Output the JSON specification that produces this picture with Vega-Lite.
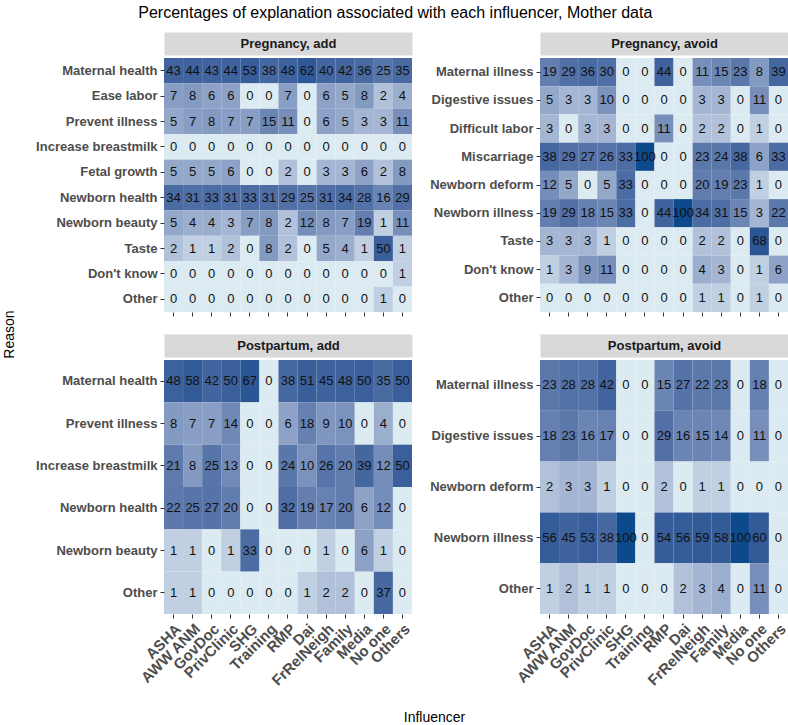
{
  "$schema": "https://vega.github.io/schema/vega-lite/v6.json",
  "padding": {"left": 2, "top": 4, "right": 0, "bottom": 0},
  "background": "white",
  "title": {"text": "Percentages of explanation associated with each influencer, Mother data", "fontSize": 16, "fontWeight": "normal", "color": "#000000", "font": "Liberation Sans", "anchor": "middle", "offset": 17},
  "config": {
    "view": {"stroke": null},
    "font": "Liberation Sans",
    "axis": {"labelFont": "Liberation Sans", "labelFontWeight": "bold", "labelFontSize": 13, "labelColor": "#4d4d4d", "tickColor": "#333333", "tickSize": 4, "domain": false, "labelPadding": 3, "grid": false, "titleFont": "Liberation Sans"}
  },
  "datasets": {
    "PA": [
      {"r":"Maternal health","i":"ASHA","v":43},{"r":"Maternal health","i":"AWW ANM","v":44},{"r":"Maternal health","i":"GovDoc","v":43},{"r":"Maternal health","i":"PrivClinic","v":44},{"r":"Maternal health","i":"SHG","v":53},{"r":"Maternal health","i":"Training","v":38},{"r":"Maternal health","i":"RMP","v":48},{"r":"Maternal health","i":"Dai","v":62},{"r":"Maternal health","i":"FrRelNeigh","v":40},{"r":"Maternal health","i":"Family","v":42},{"r":"Maternal health","i":"Media","v":36},{"r":"Maternal health","i":"No one","v":25},{"r":"Maternal health","i":"Others","v":35},
      {"r":"Ease labor","i":"ASHA","v":7},{"r":"Ease labor","i":"AWW ANM","v":8},{"r":"Ease labor","i":"GovDoc","v":6},{"r":"Ease labor","i":"PrivClinic","v":6},{"r":"Ease labor","i":"SHG","v":0},{"r":"Ease labor","i":"Training","v":0},{"r":"Ease labor","i":"RMP","v":7},{"r":"Ease labor","i":"Dai","v":0},{"r":"Ease labor","i":"FrRelNeigh","v":6},{"r":"Ease labor","i":"Family","v":5},{"r":"Ease labor","i":"Media","v":8},{"r":"Ease labor","i":"No one","v":2},{"r":"Ease labor","i":"Others","v":4},
      {"r":"Prevent illness","i":"ASHA","v":5},{"r":"Prevent illness","i":"AWW ANM","v":7},{"r":"Prevent illness","i":"GovDoc","v":8},{"r":"Prevent illness","i":"PrivClinic","v":7},{"r":"Prevent illness","i":"SHG","v":7},{"r":"Prevent illness","i":"Training","v":15},{"r":"Prevent illness","i":"RMP","v":11},{"r":"Prevent illness","i":"Dai","v":0},{"r":"Prevent illness","i":"FrRelNeigh","v":6},{"r":"Prevent illness","i":"Family","v":5},{"r":"Prevent illness","i":"Media","v":3},{"r":"Prevent illness","i":"No one","v":3},{"r":"Prevent illness","i":"Others","v":11},
      {"r":"Increase breastmilk","i":"ASHA","v":0},{"r":"Increase breastmilk","i":"AWW ANM","v":0},{"r":"Increase breastmilk","i":"GovDoc","v":0},{"r":"Increase breastmilk","i":"PrivClinic","v":0},{"r":"Increase breastmilk","i":"SHG","v":0},{"r":"Increase breastmilk","i":"Training","v":0},{"r":"Increase breastmilk","i":"RMP","v":0},{"r":"Increase breastmilk","i":"Dai","v":0},{"r":"Increase breastmilk","i":"FrRelNeigh","v":0},{"r":"Increase breastmilk","i":"Family","v":0},{"r":"Increase breastmilk","i":"Media","v":0},{"r":"Increase breastmilk","i":"No one","v":0},{"r":"Increase breastmilk","i":"Others","v":0},
      {"r":"Fetal growth","i":"ASHA","v":5},{"r":"Fetal growth","i":"AWW ANM","v":5},{"r":"Fetal growth","i":"GovDoc","v":5},{"r":"Fetal growth","i":"PrivClinic","v":6},{"r":"Fetal growth","i":"SHG","v":0},{"r":"Fetal growth","i":"Training","v":0},{"r":"Fetal growth","i":"RMP","v":2},{"r":"Fetal growth","i":"Dai","v":0},{"r":"Fetal growth","i":"FrRelNeigh","v":3},{"r":"Fetal growth","i":"Family","v":3},{"r":"Fetal growth","i":"Media","v":6},{"r":"Fetal growth","i":"No one","v":2},{"r":"Fetal growth","i":"Others","v":8},
      {"r":"Newborn health","i":"ASHA","v":34},{"r":"Newborn health","i":"AWW ANM","v":31},{"r":"Newborn health","i":"GovDoc","v":33},{"r":"Newborn health","i":"PrivClinic","v":31},{"r":"Newborn health","i":"SHG","v":33},{"r":"Newborn health","i":"Training","v":31},{"r":"Newborn health","i":"RMP","v":29},{"r":"Newborn health","i":"Dai","v":25},{"r":"Newborn health","i":"FrRelNeigh","v":31},{"r":"Newborn health","i":"Family","v":34},{"r":"Newborn health","i":"Media","v":28},{"r":"Newborn health","i":"No one","v":16},{"r":"Newborn health","i":"Others","v":29},
      {"r":"Newborn beauty","i":"ASHA","v":5},{"r":"Newborn beauty","i":"AWW ANM","v":4},{"r":"Newborn beauty","i":"GovDoc","v":4},{"r":"Newborn beauty","i":"PrivClinic","v":3},{"r":"Newborn beauty","i":"SHG","v":7},{"r":"Newborn beauty","i":"Training","v":8},{"r":"Newborn beauty","i":"RMP","v":2},{"r":"Newborn beauty","i":"Dai","v":12},{"r":"Newborn beauty","i":"FrRelNeigh","v":8},{"r":"Newborn beauty","i":"Family","v":7},{"r":"Newborn beauty","i":"Media","v":19},{"r":"Newborn beauty","i":"No one","v":1},{"r":"Newborn beauty","i":"Others","v":11},
      {"r":"Taste","i":"ASHA","v":2},{"r":"Taste","i":"AWW ANM","v":1},{"r":"Taste","i":"GovDoc","v":1},{"r":"Taste","i":"PrivClinic","v":2},{"r":"Taste","i":"SHG","v":0},{"r":"Taste","i":"Training","v":8},{"r":"Taste","i":"RMP","v":2},{"r":"Taste","i":"Dai","v":0},{"r":"Taste","i":"FrRelNeigh","v":5},{"r":"Taste","i":"Family","v":4},{"r":"Taste","i":"Media","v":1},{"r":"Taste","i":"No one","v":50},{"r":"Taste","i":"Others","v":1},
      {"r":"Don't know","i":"ASHA","v":0},{"r":"Don't know","i":"AWW ANM","v":0},{"r":"Don't know","i":"GovDoc","v":0},{"r":"Don't know","i":"PrivClinic","v":0},{"r":"Don't know","i":"SHG","v":0},{"r":"Don't know","i":"Training","v":0},{"r":"Don't know","i":"RMP","v":0},{"r":"Don't know","i":"Dai","v":0},{"r":"Don't know","i":"FrRelNeigh","v":0},{"r":"Don't know","i":"Family","v":0},{"r":"Don't know","i":"Media","v":0},{"r":"Don't know","i":"No one","v":0},{"r":"Don't know","i":"Others","v":1},
      {"r":"Other","i":"ASHA","v":0},{"r":"Other","i":"AWW ANM","v":0},{"r":"Other","i":"GovDoc","v":0},{"r":"Other","i":"PrivClinic","v":0},{"r":"Other","i":"SHG","v":0},{"r":"Other","i":"Training","v":0},{"r":"Other","i":"RMP","v":0},{"r":"Other","i":"Dai","v":0},{"r":"Other","i":"FrRelNeigh","v":0},{"r":"Other","i":"Family","v":0},{"r":"Other","i":"Media","v":0},{"r":"Other","i":"No one","v":1},{"r":"Other","i":"Others","v":0}
    ],
    "PV": [
      {"r":"Maternal illness","i":"ASHA","v":19},{"r":"Maternal illness","i":"AWW ANM","v":29},{"r":"Maternal illness","i":"GovDoc","v":36},{"r":"Maternal illness","i":"PrivClinic","v":30},{"r":"Maternal illness","i":"SHG","v":0},{"r":"Maternal illness","i":"Training","v":0},{"r":"Maternal illness","i":"RMP","v":44},{"r":"Maternal illness","i":"Dai","v":0},{"r":"Maternal illness","i":"FrRelNeigh","v":11},{"r":"Maternal illness","i":"Family","v":15},{"r":"Maternal illness","i":"Media","v":23},{"r":"Maternal illness","i":"No one","v":8},{"r":"Maternal illness","i":"Others","v":39},
      {"r":"Digestive issues","i":"ASHA","v":5},{"r":"Digestive issues","i":"AWW ANM","v":3},{"r":"Digestive issues","i":"GovDoc","v":3},{"r":"Digestive issues","i":"PrivClinic","v":10},{"r":"Digestive issues","i":"SHG","v":0},{"r":"Digestive issues","i":"Training","v":0},{"r":"Digestive issues","i":"RMP","v":0},{"r":"Digestive issues","i":"Dai","v":0},{"r":"Digestive issues","i":"FrRelNeigh","v":3},{"r":"Digestive issues","i":"Family","v":3},{"r":"Digestive issues","i":"Media","v":0},{"r":"Digestive issues","i":"No one","v":11},{"r":"Digestive issues","i":"Others","v":0},
      {"r":"Difficult labor","i":"ASHA","v":3},{"r":"Difficult labor","i":"AWW ANM","v":0},{"r":"Difficult labor","i":"GovDoc","v":3},{"r":"Difficult labor","i":"PrivClinic","v":3},{"r":"Difficult labor","i":"SHG","v":0},{"r":"Difficult labor","i":"Training","v":0},{"r":"Difficult labor","i":"RMP","v":11},{"r":"Difficult labor","i":"Dai","v":0},{"r":"Difficult labor","i":"FrRelNeigh","v":2},{"r":"Difficult labor","i":"Family","v":2},{"r":"Difficult labor","i":"Media","v":0},{"r":"Difficult labor","i":"No one","v":1},{"r":"Difficult labor","i":"Others","v":0},
      {"r":"Miscarriage","i":"ASHA","v":38},{"r":"Miscarriage","i":"AWW ANM","v":29},{"r":"Miscarriage","i":"GovDoc","v":27},{"r":"Miscarriage","i":"PrivClinic","v":26},{"r":"Miscarriage","i":"SHG","v":33},{"r":"Miscarriage","i":"Training","v":100},{"r":"Miscarriage","i":"RMP","v":0},{"r":"Miscarriage","i":"Dai","v":0},{"r":"Miscarriage","i":"FrRelNeigh","v":23},{"r":"Miscarriage","i":"Family","v":24},{"r":"Miscarriage","i":"Media","v":38},{"r":"Miscarriage","i":"No one","v":6},{"r":"Miscarriage","i":"Others","v":33},
      {"r":"Newborn deform","i":"ASHA","v":12},{"r":"Newborn deform","i":"AWW ANM","v":5},{"r":"Newborn deform","i":"GovDoc","v":0},{"r":"Newborn deform","i":"PrivClinic","v":5},{"r":"Newborn deform","i":"SHG","v":33},{"r":"Newborn deform","i":"Training","v":0},{"r":"Newborn deform","i":"RMP","v":0},{"r":"Newborn deform","i":"Dai","v":0},{"r":"Newborn deform","i":"FrRelNeigh","v":20},{"r":"Newborn deform","i":"Family","v":19},{"r":"Newborn deform","i":"Media","v":23},{"r":"Newborn deform","i":"No one","v":1},{"r":"Newborn deform","i":"Others","v":0},
      {"r":"Newborn illness","i":"ASHA","v":19},{"r":"Newborn illness","i":"AWW ANM","v":29},{"r":"Newborn illness","i":"GovDoc","v":18},{"r":"Newborn illness","i":"PrivClinic","v":15},{"r":"Newborn illness","i":"SHG","v":33},{"r":"Newborn illness","i":"Training","v":0},{"r":"Newborn illness","i":"RMP","v":44},{"r":"Newborn illness","i":"Dai","v":100},{"r":"Newborn illness","i":"FrRelNeigh","v":34},{"r":"Newborn illness","i":"Family","v":31},{"r":"Newborn illness","i":"Media","v":15},{"r":"Newborn illness","i":"No one","v":3},{"r":"Newborn illness","i":"Others","v":22},
      {"r":"Taste","i":"ASHA","v":3},{"r":"Taste","i":"AWW ANM","v":3},{"r":"Taste","i":"GovDoc","v":3},{"r":"Taste","i":"PrivClinic","v":1},{"r":"Taste","i":"SHG","v":0},{"r":"Taste","i":"Training","v":0},{"r":"Taste","i":"RMP","v":0},{"r":"Taste","i":"Dai","v":0},{"r":"Taste","i":"FrRelNeigh","v":2},{"r":"Taste","i":"Family","v":2},{"r":"Taste","i":"Media","v":0},{"r":"Taste","i":"No one","v":68},{"r":"Taste","i":"Others","v":0},
      {"r":"Don't know","i":"ASHA","v":1},{"r":"Don't know","i":"AWW ANM","v":3},{"r":"Don't know","i":"GovDoc","v":9},{"r":"Don't know","i":"PrivClinic","v":11},{"r":"Don't know","i":"SHG","v":0},{"r":"Don't know","i":"Training","v":0},{"r":"Don't know","i":"RMP","v":0},{"r":"Don't know","i":"Dai","v":0},{"r":"Don't know","i":"FrRelNeigh","v":4},{"r":"Don't know","i":"Family","v":3},{"r":"Don't know","i":"Media","v":0},{"r":"Don't know","i":"No one","v":1},{"r":"Don't know","i":"Others","v":6},
      {"r":"Other","i":"ASHA","v":0},{"r":"Other","i":"AWW ANM","v":0},{"r":"Other","i":"GovDoc","v":0},{"r":"Other","i":"PrivClinic","v":0},{"r":"Other","i":"SHG","v":0},{"r":"Other","i":"Training","v":0},{"r":"Other","i":"RMP","v":0},{"r":"Other","i":"Dai","v":0},{"r":"Other","i":"FrRelNeigh","v":1},{"r":"Other","i":"Family","v":1},{"r":"Other","i":"Media","v":0},{"r":"Other","i":"No one","v":1},{"r":"Other","i":"Others","v":0}
    ],
    "QA": [
      {"r":"Maternal health","i":"ASHA","v":48},{"r":"Maternal health","i":"AWW ANM","v":58},{"r":"Maternal health","i":"GovDoc","v":42},{"r":"Maternal health","i":"PrivClinic","v":50},{"r":"Maternal health","i":"SHG","v":67},{"r":"Maternal health","i":"Training","v":0},{"r":"Maternal health","i":"RMP","v":38},{"r":"Maternal health","i":"Dai","v":51},{"r":"Maternal health","i":"FrRelNeigh","v":45},{"r":"Maternal health","i":"Family","v":48},{"r":"Maternal health","i":"Media","v":50},{"r":"Maternal health","i":"No one","v":35},{"r":"Maternal health","i":"Others","v":50},
      {"r":"Prevent illness","i":"ASHA","v":8},{"r":"Prevent illness","i":"AWW ANM","v":7},{"r":"Prevent illness","i":"GovDoc","v":7},{"r":"Prevent illness","i":"PrivClinic","v":14},{"r":"Prevent illness","i":"SHG","v":0},{"r":"Prevent illness","i":"Training","v":0},{"r":"Prevent illness","i":"RMP","v":6},{"r":"Prevent illness","i":"Dai","v":18},{"r":"Prevent illness","i":"FrRelNeigh","v":9},{"r":"Prevent illness","i":"Family","v":10},{"r":"Prevent illness","i":"Media","v":0},{"r":"Prevent illness","i":"No one","v":4},{"r":"Prevent illness","i":"Others","v":0},
      {"r":"Increase breastmilk","i":"ASHA","v":21},{"r":"Increase breastmilk","i":"AWW ANM","v":8},{"r":"Increase breastmilk","i":"GovDoc","v":25},{"r":"Increase breastmilk","i":"PrivClinic","v":13},{"r":"Increase breastmilk","i":"SHG","v":0},{"r":"Increase breastmilk","i":"Training","v":0},{"r":"Increase breastmilk","i":"RMP","v":24},{"r":"Increase breastmilk","i":"Dai","v":10},{"r":"Increase breastmilk","i":"FrRelNeigh","v":26},{"r":"Increase breastmilk","i":"Family","v":20},{"r":"Increase breastmilk","i":"Media","v":39},{"r":"Increase breastmilk","i":"No one","v":12},{"r":"Increase breastmilk","i":"Others","v":50},
      {"r":"Newborn health","i":"ASHA","v":22},{"r":"Newborn health","i":"AWW ANM","v":25},{"r":"Newborn health","i":"GovDoc","v":27},{"r":"Newborn health","i":"PrivClinic","v":20},{"r":"Newborn health","i":"SHG","v":0},{"r":"Newborn health","i":"Training","v":0},{"r":"Newborn health","i":"RMP","v":32},{"r":"Newborn health","i":"Dai","v":19},{"r":"Newborn health","i":"FrRelNeigh","v":17},{"r":"Newborn health","i":"Family","v":20},{"r":"Newborn health","i":"Media","v":6},{"r":"Newborn health","i":"No one","v":12},{"r":"Newborn health","i":"Others","v":0},
      {"r":"Newborn beauty","i":"ASHA","v":1},{"r":"Newborn beauty","i":"AWW ANM","v":1},{"r":"Newborn beauty","i":"GovDoc","v":0},{"r":"Newborn beauty","i":"PrivClinic","v":1},{"r":"Newborn beauty","i":"SHG","v":33},{"r":"Newborn beauty","i":"Training","v":0},{"r":"Newborn beauty","i":"RMP","v":0},{"r":"Newborn beauty","i":"Dai","v":0},{"r":"Newborn beauty","i":"FrRelNeigh","v":1},{"r":"Newborn beauty","i":"Family","v":0},{"r":"Newborn beauty","i":"Media","v":6},{"r":"Newborn beauty","i":"No one","v":1},{"r":"Newborn beauty","i":"Others","v":0},
      {"r":"Other","i":"ASHA","v":1},{"r":"Other","i":"AWW ANM","v":1},{"r":"Other","i":"GovDoc","v":0},{"r":"Other","i":"PrivClinic","v":0},{"r":"Other","i":"SHG","v":0},{"r":"Other","i":"Training","v":0},{"r":"Other","i":"RMP","v":0},{"r":"Other","i":"Dai","v":1},{"r":"Other","i":"FrRelNeigh","v":2},{"r":"Other","i":"Family","v":2},{"r":"Other","i":"Media","v":0},{"r":"Other","i":"No one","v":37},{"r":"Other","i":"Others","v":0}
    ],
    "QV": [
      {"r":"Maternal illness","i":"ASHA","v":23},{"r":"Maternal illness","i":"AWW ANM","v":28},{"r":"Maternal illness","i":"GovDoc","v":28},{"r":"Maternal illness","i":"PrivClinic","v":42},{"r":"Maternal illness","i":"SHG","v":0},{"r":"Maternal illness","i":"Training","v":0},{"r":"Maternal illness","i":"RMP","v":15},{"r":"Maternal illness","i":"Dai","v":27},{"r":"Maternal illness","i":"FrRelNeigh","v":22},{"r":"Maternal illness","i":"Family","v":23},{"r":"Maternal illness","i":"Media","v":0},{"r":"Maternal illness","i":"No one","v":18},{"r":"Maternal illness","i":"Others","v":0},
      {"r":"Digestive issues","i":"ASHA","v":18},{"r":"Digestive issues","i":"AWW ANM","v":23},{"r":"Digestive issues","i":"GovDoc","v":16},{"r":"Digestive issues","i":"PrivClinic","v":17},{"r":"Digestive issues","i":"SHG","v":0},{"r":"Digestive issues","i":"Training","v":0},{"r":"Digestive issues","i":"RMP","v":29},{"r":"Digestive issues","i":"Dai","v":16},{"r":"Digestive issues","i":"FrRelNeigh","v":15},{"r":"Digestive issues","i":"Family","v":14},{"r":"Digestive issues","i":"Media","v":0},{"r":"Digestive issues","i":"No one","v":11},{"r":"Digestive issues","i":"Others","v":0},
      {"r":"Newborn deform","i":"ASHA","v":2},{"r":"Newborn deform","i":"AWW ANM","v":3},{"r":"Newborn deform","i":"GovDoc","v":3},{"r":"Newborn deform","i":"PrivClinic","v":1},{"r":"Newborn deform","i":"SHG","v":0},{"r":"Newborn deform","i":"Training","v":0},{"r":"Newborn deform","i":"RMP","v":2},{"r":"Newborn deform","i":"Dai","v":0},{"r":"Newborn deform","i":"FrRelNeigh","v":1},{"r":"Newborn deform","i":"Family","v":1},{"r":"Newborn deform","i":"Media","v":0},{"r":"Newborn deform","i":"No one","v":0},{"r":"Newborn deform","i":"Others","v":0},
      {"r":"Newborn illness","i":"ASHA","v":56},{"r":"Newborn illness","i":"AWW ANM","v":45},{"r":"Newborn illness","i":"GovDoc","v":53},{"r":"Newborn illness","i":"PrivClinic","v":38},{"r":"Newborn illness","i":"SHG","v":100},{"r":"Newborn illness","i":"Training","v":0},{"r":"Newborn illness","i":"RMP","v":54},{"r":"Newborn illness","i":"Dai","v":56},{"r":"Newborn illness","i":"FrRelNeigh","v":59},{"r":"Newborn illness","i":"Family","v":58},{"r":"Newborn illness","i":"Media","v":100},{"r":"Newborn illness","i":"No one","v":60},{"r":"Newborn illness","i":"Others","v":0},
      {"r":"Other","i":"ASHA","v":1},{"r":"Other","i":"AWW ANM","v":2},{"r":"Other","i":"GovDoc","v":1},{"r":"Other","i":"PrivClinic","v":1},{"r":"Other","i":"SHG","v":0},{"r":"Other","i":"Training","v":0},{"r":"Other","i":"RMP","v":0},{"r":"Other","i":"Dai","v":2},{"r":"Other","i":"FrRelNeigh","v":3},{"r":"Other","i":"Family","v":4},{"r":"Other","i":"Media","v":0},{"r":"Other","i":"No one","v":11},{"r":"Other","i":"Others","v":0}
    ]
  },
  "concat": [
    {
      "width": 248, "height": 254,
      "data": {"name": "PA"},
      "encoding": {
        "y": {"field": "r", "type": "nominal", "sort": ["Maternal health","Ease labor","Prevent illness","Increase breastmilk","Fetal growth","Newborn health","Newborn beauty","Taste","Don't know","Other"], "scale": {"paddingInner": 0, "paddingOuter": 0},
              "axis": {"title": "Reason", "titleX": -151, "titleY": 276, "titleAngle": -90, "titleBaseline": "alphabetic", "titleAlign": "center", "titleFontSize": 14, "titleFontWeight": "normal", "titleColor": "#000000"}}
      },
      "layer": [
        {"mark": {"type": "rect"}, "encoding": {
          "x": {"field": "i", "type": "nominal", "sort": ["ASHA","AWW ANM","GovDoc","PrivClinic","SHG","Training","RMP","Dai","FrRelNeigh","Family","Media","No one","Others"], "scale": {"domain": ["ASHA","AWW ANM","GovDoc","PrivClinic","SHG","Training","RMP","Dai","FrRelNeigh","Family","Media","No one","Others"], "paddingInner": 0, "paddingOuter": 0}, "axis": {"orient": "bottom", "title": null, "labels": false}},
          "fill": {"field": "v", "type": "quantitative", "scale": {"type": "symlog", "constant": 1, "domain": [0, 100], "range": ["#dceaf2", "#0c4a8c"], "interpolate": "lab"}, "legend": null}}},
        {"mark": {"type": "text", "fontSize": 13, "color": "#111111", "font": "Liberation Sans"}, "encoding": {
          "x": {"field": "i", "type": "nominal", "sort": ["ASHA","AWW ANM","GovDoc","PrivClinic","SHG","Training","RMP","Dai","FrRelNeigh","Family","Media","No one","Others"], "axis": {"orient": "top", "title": "Pregnancy, add", "labels": false, "ticks": false, "domain": true, "domainColor": "#d9d9d9", "domainWidth": 23, "offset": 14.5, "titlePadding": 0, "titleBaseline": "middle", "titleFontSize": 13, "titleFontWeight": "bold", "titleColor": "#1a1a1a", "minExtent": 0, "maxExtent": 0}},
          "text": {"field": "v", "type": "quantitative"}}}
      ]
    },
    {
      "width": 248, "height": 254,
      "data": {"name": "PV"},
      "encoding": {
        "y": {"field": "r", "type": "nominal", "sort": ["Maternal illness","Digestive issues","Difficult labor","Miscarriage","Newborn deform","Newborn illness","Taste","Don't know","Other"], "scale": {"paddingInner": 0, "paddingOuter": 0}, "axis": {"title": null}}
      },
      "layer": [
        {"mark": {"type": "rect"}, "encoding": {
          "x": {"field": "i", "type": "nominal", "sort": ["ASHA","AWW ANM","GovDoc","PrivClinic","SHG","Training","RMP","Dai","FrRelNeigh","Family","Media","No one","Others"], "scale": {"domain": ["ASHA","AWW ANM","GovDoc","PrivClinic","SHG","Training","RMP","Dai","FrRelNeigh","Family","Media","No one","Others"], "paddingInner": 0, "paddingOuter": 0}, "axis": {"orient": "bottom", "title": null, "labels": false}},
          "fill": {"field": "v", "type": "quantitative", "scale": {"type": "symlog", "constant": 1, "domain": [0, 100], "range": ["#dceaf2", "#0c4a8c"], "interpolate": "lab"}, "legend": null}}},
        {"mark": {"type": "text", "fontSize": 13, "color": "#111111", "font": "Liberation Sans"}, "encoding": {
          "x": {"field": "i", "type": "nominal", "sort": ["ASHA","AWW ANM","GovDoc","PrivClinic","SHG","Training","RMP","Dai","FrRelNeigh","Family","Media","No one","Others"], "axis": {"orient": "top", "title": "Pregnancy, avoid", "labels": false, "ticks": false, "domain": true, "domainColor": "#d9d9d9", "domainWidth": 23, "offset": 14.5, "titlePadding": 0, "titleBaseline": "middle", "titleFontSize": 13, "titleFontWeight": "bold", "titleColor": "#1a1a1a", "minExtent": 0, "maxExtent": 0}},
          "text": {"field": "v", "type": "quantitative"}}}
      ]
    },
    {
      "width": 248, "height": 254,
      "data": {"name": "QA"},
      "encoding": {
        "y": {"field": "r", "type": "nominal", "sort": ["Maternal health","Prevent illness","Increase breastmilk","Newborn health","Newborn beauty","Other"], "scale": {"paddingInner": 0, "paddingOuter": 0}, "axis": {"title": null}}
      },
      "layer": [
        {"mark": {"type": "rect"}, "encoding": {
          "x": {"field": "i", "type": "nominal", "sort": ["ASHA","AWW ANM","GovDoc","PrivClinic","SHG","Training","RMP","Dai","FrRelNeigh","Family","Media","No one","Others"], "scale": {"domain": ["ASHA","AWW ANM","GovDoc","PrivClinic","SHG","Training","RMP","Dai","FrRelNeigh","Family","Media","No one","Others"], "paddingInner": 0, "paddingOuter": 0},
                "axis": {"orient": "bottom", "labelAngle": -45, "labelFontSize": 15, "title": "Influencer", "titleX": 270, "titleY": 107, "titleAngle": 0, "titleBaseline": "alphabetic", "titleAlign": "center", "titleFontSize": 14, "titleFontWeight": "normal", "titleColor": "#000000"}},
          "fill": {"field": "v", "type": "quantitative", "scale": {"type": "symlog", "constant": 1, "domain": [0, 100], "range": ["#dceaf2", "#0c4a8c"], "interpolate": "lab"}, "legend": null}}},
        {"mark": {"type": "text", "fontSize": 13, "color": "#111111", "font": "Liberation Sans"}, "encoding": {
          "x": {"field": "i", "type": "nominal", "sort": ["ASHA","AWW ANM","GovDoc","PrivClinic","SHG","Training","RMP","Dai","FrRelNeigh","Family","Media","No one","Others"], "axis": {"orient": "top", "title": "Postpartum, add", "labels": false, "ticks": false, "domain": true, "domainColor": "#d9d9d9", "domainWidth": 23, "offset": 14.5, "titlePadding": 0, "titleBaseline": "middle", "titleFontSize": 13, "titleFontWeight": "bold", "titleColor": "#1a1a1a", "minExtent": 0, "maxExtent": 0}},
          "text": {"field": "v", "type": "quantitative"}}}
      ]
    },
    {
      "width": 248, "height": 254,
      "data": {"name": "QV"},
      "encoding": {
        "y": {"field": "r", "type": "nominal", "sort": ["Maternal illness","Digestive issues","Newborn deform","Newborn illness","Other"], "scale": {"paddingInner": 0, "paddingOuter": 0}, "axis": {"title": null}}
      },
      "layer": [
        {"mark": {"type": "rect"}, "encoding": {
          "x": {"field": "i", "type": "nominal", "sort": ["ASHA","AWW ANM","GovDoc","PrivClinic","SHG","Training","RMP","Dai","FrRelNeigh","Family","Media","No one","Others"], "scale": {"domain": ["ASHA","AWW ANM","GovDoc","PrivClinic","SHG","Training","RMP","Dai","FrRelNeigh","Family","Media","No one","Others"], "paddingInner": 0, "paddingOuter": 0}, "axis": {"orient": "bottom", "labelAngle": -45, "labelFontSize": 15, "title": null}},
          "fill": {"field": "v", "type": "quantitative", "scale": {"type": "symlog", "constant": 1, "domain": [0, 100], "range": ["#dceaf2", "#0c4a8c"], "interpolate": "lab"}, "legend": null}}},
        {"mark": {"type": "text", "fontSize": 13, "color": "#111111", "font": "Liberation Sans"}, "encoding": {
          "x": {"field": "i", "type": "nominal", "sort": ["ASHA","AWW ANM","GovDoc","PrivClinic","SHG","Training","RMP","Dai","FrRelNeigh","Family","Media","No one","Others"], "axis": {"orient": "top", "title": "Postpartum, avoid", "labels": false, "ticks": false, "domain": true, "domainColor": "#d9d9d9", "domainWidth": 23, "offset": 14.5, "titlePadding": 0, "titleBaseline": "middle", "titleFontSize": 13, "titleFontWeight": "bold", "titleColor": "#1a1a1a", "minExtent": 0, "maxExtent": 0}},
          "text": {"field": "v", "type": "quantitative"}}}
      ]
    }
  ],
  "columns": 2,
  "spacing": {"row": 48, "column": 128},
  "bounds": "flush"
}
